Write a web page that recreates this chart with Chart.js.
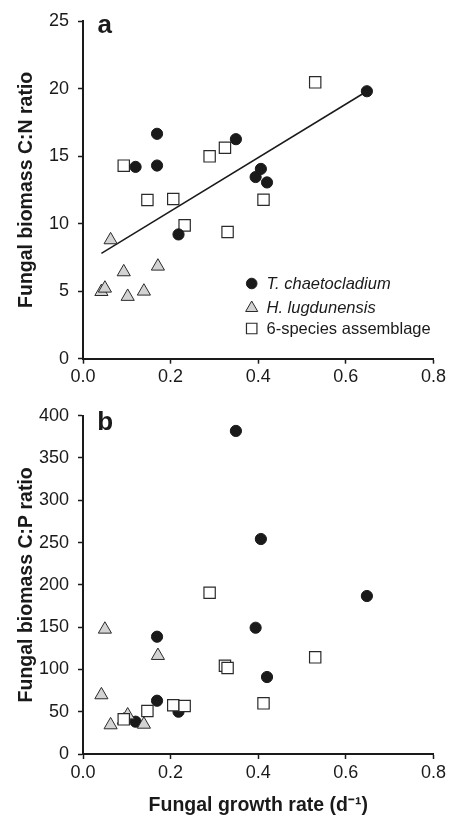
<!DOCTYPE html>
<html><head><meta charset="utf-8">
<script src="https://cdn.jsdelivr.net/npm/chart.js@4.4.1/dist/chart.umd.min.js"></script>
<style>
html,body{margin:0;padding:0;background:#fff;}
#wa{position:absolute;left:0;top:0;width:449px;height:390px;}
#wb{position:absolute;left:0;top:390px;width:449px;height:425px;}
</style></head><body>
<div id="wa"><canvas id="ca"></canvas></div>
<div id="wb"><canvas id="cb"></canvas></div>
<script>
// ---- data ----
const seriesNames = ['T. chaetocladium', 'H. lugdunensis', '6-species assemblage'];
const xTicks = [0, 0.2, 0.4, 0.6, 0.8];
const yTicksCN = [0, 5, 10, 15, 20, 25];
const yTicksCP = [0, 50, 100, 150, 200, 250, 300, 350, 400];

const tcRate = [0.120, 0.169, 0.169, 0.218, 0.349, 0.394, 0.406, 0.420, 0.648];
const tcCN   = [14.2, 16.65, 14.3, 9.2, 16.25, 13.45, 14.05, 13.05, 19.8];
const tcCP   = [38.2, 138.7, 63.0, 50.0, 382.0, 149.3, 254.2, 91.0, 186.8];

const hlRate = [0.042, 0.050, 0.063, 0.093, 0.102, 0.139, 0.171];
const hlCN   = [4.96, 5.21, 8.79, 6.42, 4.60, 4.99, 6.84];
const hlCP   = [69.8, 147.4, 34.3, 40.0, 46.0, 35.0, 116.3];

const asRate = [0.093, 0.147, 0.206, 0.232, 0.289, 0.324, 0.330, 0.412, 0.530];
const asCN   = [14.29, 11.75, 11.82, 9.87, 14.98, 15.62, 9.38, 11.77, 20.46];
const asCP   = [41.0, 50.8, 57.6, 56.7, 190.7, 104.4, 101.7, 59.9, 114.3];

const fitRate = [0.042, 0.648];
const fitCN   = [7.8, 19.8];

// ---- styles ----
const FONT = "'Liberation Sans', Arial, Helvetica, sans-serif";
const INK = '#1a1a1a';
const styles = {
  tc: {pointStyle: 'circle', pointRadius: 5.6, pointBackgroundColor: '#1a1a1a', pointBorderColor: '#1a1a1a', pointBorderWidth: 1},
  hl: {pointStyle: 'triangle', pointRadius: 7.6, pointBackgroundColor: '#d3d3d3', pointBorderColor: '#2a2a2a', pointBorderWidth: 1},
  as: {pointStyle: 'rect', pointRadius: 8, pointBackgroundColor: '#ffffff', pointBorderColor: '#2a2a2a', pointBorderWidth: 1.2}
};
const pts = (xs, ys) => xs.map((x, i) => ({x: x, y: ys[i]}));

function mkDataset(key, xs, ys, label) {
  return Object.assign({label: label, data: pts(xs, ys), pointHoverRadius: 0}, styles[key]);
}

function scales(yTicks, yTitle, xHeight, withXTitle) {
  return {
    x: {
      type: 'linear', min: 0, max: 0.8,
      afterBuildTicks: s => { s.ticks = xTicks.map(v => ({value: v})); },
      afterFit: s => { s.height = xHeight; },
      ticks: {callback: v => Number(v).toFixed(1), color: INK, font: {family: FONT, size: 18}, padding: 3, maxRotation: 0, autoSkip: false},
      grid: {display: true, drawOnChartArea: false, drawTicks: true, tickLength: 5, tickColor: INK, tickWidth: 1.5},
      border: {display: true, color: INK, width: 2},
      title: {display: withXTitle, text: 'Fungal growth rate (d\u207B\u00B9)', color: INK, font: {family: FONT, size: 19.5, weight: 'bold'}, padding: {top: 0, bottom: -2}}
    },
    y: {
      type: 'linear', min: yTicks[0], max: yTicks[yTicks.length - 1],
      afterBuildTicks: s => { s.ticks = yTicks.map(v => ({value: v})); },
      afterFit: s => { s.width = 83; },
      ticks: {color: INK, font: {family: FONT, size: 18}, padding: 9, autoSkip: false},
      grid: {display: true, drawOnChartArea: false, drawTicks: true, tickLength: 5, tickColor: INK, tickWidth: 1.5},
      border: {display: true, color: INK, width: 2},
      title: {display: true, text: yTitle, color: INK, font: {family: FONT, size: 19.5, weight: 'bold'}, padding: {top: 15, bottom: 0}}
    }
  };
}

function letterPlugin(letter, x, y) {
  return {
    id: 'letter' + letter,
    afterDraw(chart) {
      const ctx = chart.ctx;
      ctx.save();
      ctx.fillStyle = INK;
      ctx.font = "bold 26px " + FONT;
      ctx.textAlign = 'left';
      ctx.textBaseline = 'alphabetic';
      ctx.fillText(letter, x, y);
      ctx.restore();
    }
  };
}

const legendPlugin = {
  id: 'insideLegend',
  afterDraw(chart) {
    const ctx = chart.ctx;
    const items = [
      {st: styles.tc, r: 5.3, y: 283.5, italic: true},
      {st: styles.hl, r: 7.0, y: 308, italic: true},
      {st: styles.as, r: 7.4, y: 328.5, italic: false}
    ];
    ctx.save();
    items.forEach((it, i) => {
      ctx.fillStyle = it.st.pointBackgroundColor;
      ctx.strokeStyle = it.st.pointBorderColor;
      ctx.lineWidth = it.st.pointBorderWidth;
      Chart.helpers.drawPoint(ctx, {pointStyle: it.st.pointStyle, radius: it.r, rotation: 0, borderWidth: it.st.pointBorderWidth}, 251.7, it.y);
      ctx.fillStyle = INK;
      ctx.font = (it.italic ? 'italic ' : '') + '16.5px ' + FONT;
      ctx.textAlign = 'left';
      ctx.textBaseline = 'middle';
      ctx.fillText(seriesNames[i], 266.5, it.y + 0.5);
    });
    ctx.restore();
  }
};

const common = {
  responsive: true, maintainAspectRatio: false, animation: false, devicePixelRatio: 1,
  plugins: {legend: {display: false}, tooltip: {enabled: false}},
  events: []
};

new Chart(document.getElementById('ca'), {
  type: 'scatter',
  data: {datasets: [
    mkDataset('tc', tcRate, tcCN, seriesNames[0]),
    mkDataset('hl', hlRate, hlCN, seriesNames[1]),
    mkDataset('as', asRate, asCN, seriesNames[2]),
    {type: 'line', label: 'fit', data: pts(fitRate, fitCN), showLine: true, pointRadius: 0, borderColor: INK, borderWidth: 1.5, fill: false}
  ]},
  options: Object.assign({}, common, {
    layout: {padding: {top: 21, right: 14, left: 0, bottom: 0}},
    scales: scales(yTicksCN, 'Fungal biomass C:N ratio', 31.3, false)
  }),
  plugins: [letterPlugin('a', 97.5, 32.7), legendPlugin]
});

new Chart(document.getElementById('cb'), {
  type: 'scatter',
  data: {datasets: [
    mkDataset('as', asRate, asCP, seriesNames[2]),
    mkDataset('hl', hlRate, hlCP, seriesNames[1]),
    mkDataset('tc', tcRate, tcCP, seriesNames[0])
  ]},
  options: Object.assign({}, common, {
    layout: {padding: {top: 25.7, right: 14, left: 0, bottom: 0}},
    scales: scales(yTicksCP, 'Fungal biomass C:P ratio', 61, true)
  }),
  plugins: [letterPlugin('b', 97.3, 40)]
});
</script>
</body></html>
